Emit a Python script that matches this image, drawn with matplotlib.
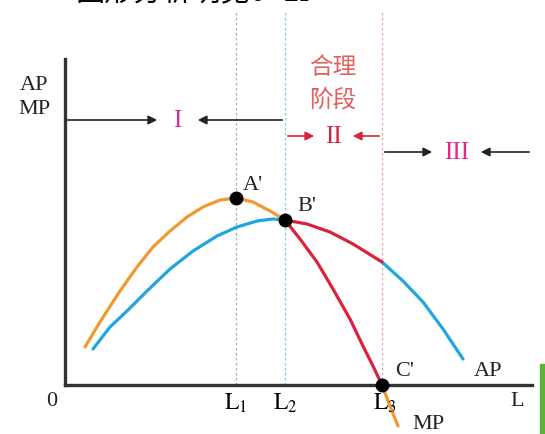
import matplotlib
matplotlib.use("Agg")
import matplotlib.pyplot as plt
from matplotlib.patches import Rectangle

# Schemat: trzy etapy produkcji (krzywe AP i MP)
L1, L2, L3 = 171, 220, 317

# MP: część rosnąca (pomarańczowa), malejąca (czerwona), ogon poniżej osi
mp_up_x = [20, 32, 42, 55, 72, 88, 105, 122, 138, 155, 171, 188, 205, 220]
mp_up_y = [38, 58, 74, 94, 118, 138, 154, 168, 178, 185, 187, 183, 174, 165]
mp_down_x = [220, 235, 252, 268, 285, 298, 308, 317]
mp_down_y = [165, 146, 123, 96, 66, 39, 19, 0]
mp_tail_x = [317, 325, 333]
mp_tail_y = [0, -21, -41]

# AP: rosnąca (niebieska), odcinek B'-L3 (czerwony), dalej niebieska
ap_up_x = [28, 45, 62, 82, 105, 128, 152, 172, 192, 208, 220]
ap_up_y = [36, 58, 74, 94, 116, 134, 149, 158, 164, 166, 165]
ap_mid_x = [220, 242, 265, 288, 317]
ap_mid_y = [165, 161, 153, 141, 123]
ap_end_x = [317, 338, 358, 378, 398]
ap_end_y = [123, 104, 83, 56, 26]

# punkty A', B', C'
pt_x = [171, 220, 317]
pt_y = [187, 165, 0]

ORANGE = "#EE9A2E"
BLUE = "#1FA6DD"
RED = "#D8233C"
MAGENTA = "#E2268E"
AXIS = "#333333"

plt.rcParams["mathtext.fontset"] = "stix"
serif = "Liberation Serif"
cjk = ["Noto Sans CJK SC", "DejaVu Sans"]

fig = plt.figure(figsize=(5.45, 4.35), dpi=100)
ax = fig.add_axes([0, 0, 1, 1])
ax.set_xlim(-65, 480)
ax.set_ylim(-49, 386)
ax.set_xticks([])
ax.set_yticks([])
for s in ["top", "right"]:
    ax.spines[s].set_visible(False)
ax.spines["left"].set_position(("data", 0))
ax.spines["bottom"].set_position(("data", 0))
ax.spines["left"].set_bounds(0, 326)
ax.spines["bottom"].set_bounds(0, 467)
for s in ["left", "bottom"]:
    ax.spines[s].set_linewidth(2.4)
    ax.spines[s].set_color(AXIS)

# pionowe linie przerywane
ax.plot([L1, L1], [0, 374], ls=(0, (2, 2)), color="#9AAFC0", lw=0.9)
ax.plot([L2, L2], [0, 374], ls=(0, (2, 2)), color="#7CCBE6", lw=0.9)
ax.plot([L3, L3], [0, 374], ls=(0, (2, 2)), color="#EBA2A2", lw=0.9)

# krzywe
lw = 2.3
ax.plot(mp_up_x, mp_up_y, color=ORANGE, lw=lw, solid_capstyle="round")
ax.plot(mp_tail_x, mp_tail_y, color=ORANGE, lw=lw, solid_capstyle="round")
ax.plot(ap_up_x, ap_up_y, color=BLUE, lw=lw, solid_capstyle="round")
ax.plot(ap_end_x, ap_end_y, color=BLUE, lw=lw, solid_capstyle="round")
ax.plot(ap_mid_x, ap_mid_y, color=RED, lw=lw, solid_capstyle="round")
ax.plot(mp_down_x, mp_down_y, color=RED, lw=lw, solid_capstyle="round")
ax.plot(pt_x, pt_y, "o", color="black", ms=9, zorder=5)

# strzałki etapów
arr = dict(arrowstyle="-|>", color="#222222", lw=1.2, mutation_scale=13)
arr_red = dict(arrowstyle="-|>", color=RED, lw=1.2, mutation_scale=13)
ax.annotate("", xy=(95, 265), xytext=(0, 265), arrowprops=arr)
ax.annotate("", xy=(130, 265), xytext=(L2, 265), arrowprops=arr)
ax.annotate("", xy=(252, 249), xytext=(L2, 249), arrowprops=arr_red)
ax.annotate("", xy=(285, 249), xytext=(L3, 249), arrowprops=arr_red)
ax.annotate("", xy=(370, 233), xytext=(L3, 233), arrowprops=arr)
ax.annotate("", xy=(413, 233), xytext=(467, 233), arrowprops=arr)

ax.text(112, 265, "I", color=MAGENTA, family=serif, fontsize=18,
        ha="center", va="center")
ax.text(268, 249, "II", color=RED, family=serif, fontsize=18,
        ha="center", va="center")
ax.text(392, 233, "III", color=MAGENTA, family=serif, fontsize=18,
        ha="center", va="center")
ax.text(268, 319, "合理", color="#E0605E", family=cjk, fontsize=17,
        ha="center", va="center")
ax.text(268, 286, "阶段", color="#E0605E", family=cjk, fontsize=17,
        ha="center", va="center")

# etykiety
lab = dict(family=serif, fontsize=16, color="#222222", ha="center", va="center")
ax.text(-31, 300, "AP", **lab)
ax.text(-31, 276, "MP", **lab)
ax.text(188, 200, "A'", **lab)
ax.text(242, 179, "B'", **lab)
ax.text(340, 14, "C'", **lab)
ax.text(423, 14, "AP", **lab)
ax.text(363, -39, "MP", **lab)
ax.text(-13, -16, "0", **lab)
ax.text(452, -16, "L", **lab)
ax.text(L1, -17, r"$\mathrm{L}_{1}$", fontsize=17, ha="center", va="center")
ax.text(L2, -17, r"$\mathrm{L}_{2}$", fontsize=17, ha="center", va="center")
ax.text(L3 + 3, -17, r"$\mathrm{L}_{3}$", fontsize=17, ha="center", va="center")

# obcięty tekst u góry i zielony pasek przy prawej krawędzi
fig.text(75 / 545, 1 - 8 / 435, "图形分析明见0~L₁", family=cjk, fontsize=21,
         ha="left", va="bottom", color="black")
fig.patches.append(Rectangle((540 / 545, 0), 5 / 545, 70 / 435,
                             transform=fig.transFigure, color="#5DB33A"))

fig.savefig("out.png", dpi=100)
